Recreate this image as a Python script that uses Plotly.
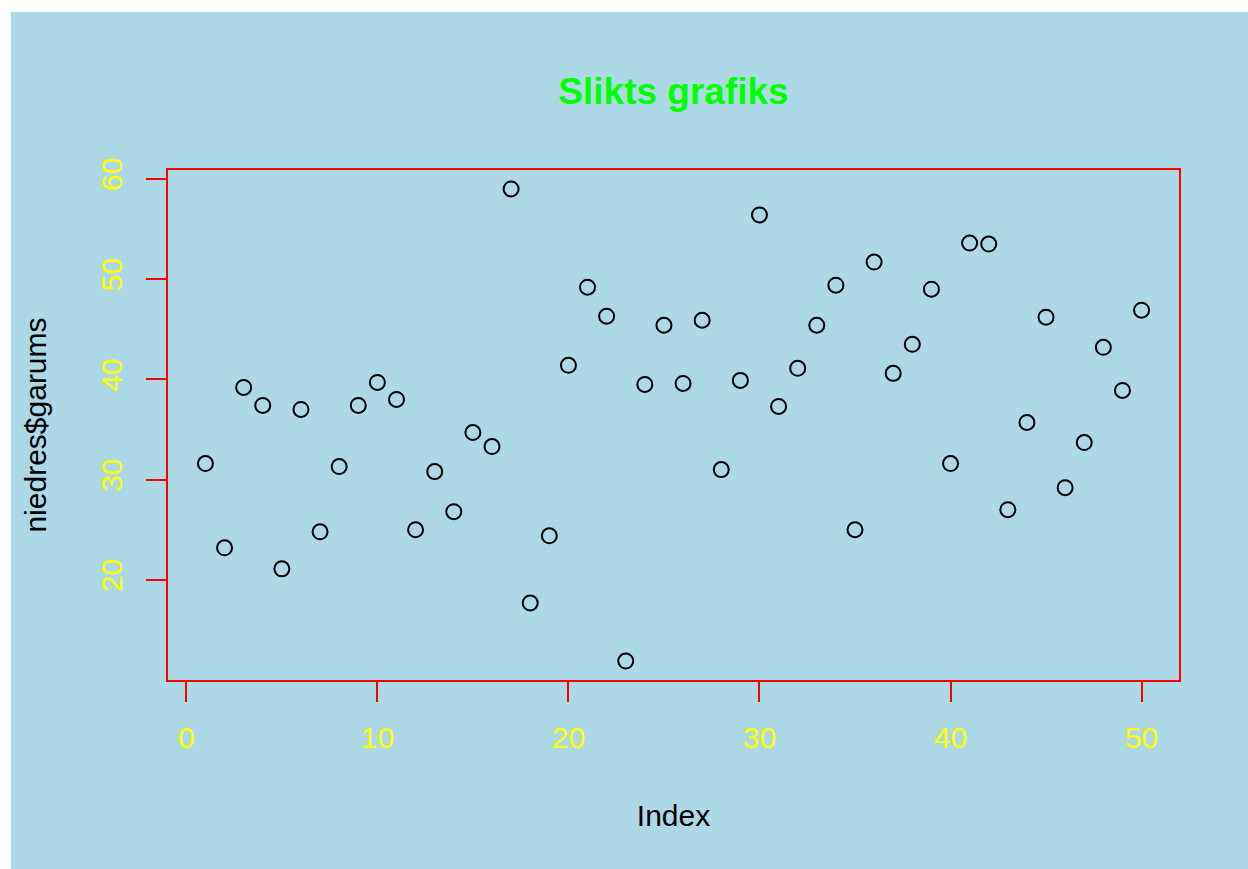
import plotly.graph_objects as go

# values (index 1..50)
index = list(range(1, 51))
garums = [31.6, 23.2, 39.2, 37.4, 21.1, 37.0, 24.8, 31.3, 37.4, 39.7,
          38.0, 25.0, 30.8, 26.8, 34.7, 33.3, 59.0, 17.7, 24.4, 41.4,
          49.2, 46.3, 11.9, 39.5, 45.4, 39.6, 45.9, 31.0, 39.9, 56.4,
          37.3, 41.1, 45.4, 49.4, 25.0, 51.7, 40.6, 43.5, 49.0, 31.6,
          53.6, 53.5, 27.0, 35.7, 46.2, 29.2, 33.7, 43.2, 38.9, 46.9]
x_ticks = [0, 10, 20, 30, 40, 50]
y_ticks = [20, 30, 40, 50, 60]

# R style 4% padding
def pad(lo, hi):
    d = (hi - lo) * 0.04
    return [lo - d, hi + d]

font = "Liberation Sans, Arial, sans-serif"
lightblue = "#ADD8E6"

fig = go.Figure(go.Scatter(
    x=index, y=garums, mode="markers",
    marker=dict(symbol="circle-open", size=15, color="black", line=dict(width=2)),
    showlegend=False,
))

fig.update_layout(
    width=1248, height=869,
    margin=dict(l=168, r=69, t=170, b=189),
    paper_bgcolor="white",
    plot_bgcolor=lightblue,
    font=dict(family=font, size=30, color="black"),
    title=dict(text="<b>Slikts grafiks</b>", font=dict(size=37, color="#00FF00"),
               x=0.5, xref="paper", xanchor="center",
               y=1 - 91 / 869, yref="container", yanchor="middle"),
)

# light blue device background, offset a few px like the reference
fig.add_shape(type="rect", xref="paper", yref="paper",
              x0=-0.1553, x1=1.2, y0=-0.5, y1=1.3098,
              fillcolor=lightblue, line_width=0, layer="below")

fig.update_xaxes(
    range=pad(min(index), max(index)), tickvals=x_ticks,
    showgrid=False, zeroline=False,
    showline=True, mirror=True, linecolor="red", linewidth=2,
    ticks="outside", ticklen=20, tickcolor="red", tickwidth=2,
    tickfont=dict(color="yellow", size=30), ticklabelstandoff=10,
    title=dict(text="Index", standoff=52, font=dict(size=30)),
)
fig.update_yaxes(
    range=pad(min(garums), max(garums)), tickvals=y_ticks,
    showgrid=False, zeroline=False,
    showline=True, mirror=True, linecolor="red", linewidth=2,
    ticks="outside", ticklen=20, tickcolor="red", tickwidth=2,
    tickangle=-90,
    tickfont=dict(color="yellow", size=30), ticklabelstandoff=12,
    title=dict(text="niedres$garums", standoff=40, font=dict(size=30)),
)

fig.write_html("out.html", config={"displayModeBar": False},
               post_script="document.body.style.margin='0';")
